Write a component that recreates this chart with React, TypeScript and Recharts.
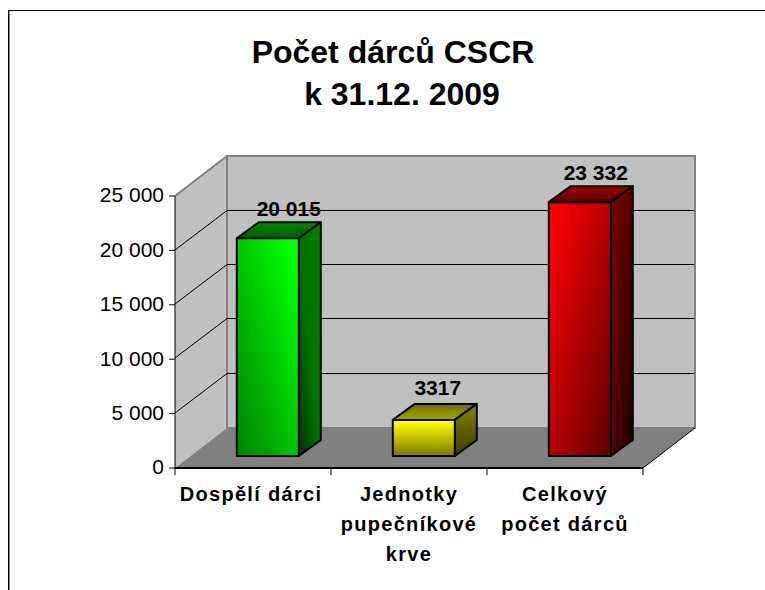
import { BarChart, Bar, XAxis, YAxis, CartesianGrid, LabelList } from 'recharts';

const CATEGORIES = ['Dospělí dárci', 'Jednotky\npupečníkové\nkrve', 'Celkový\npočet dárců'];
const DONORS = [20015, 3317, 23332];
const VALUE_LABELS = ['20 015', '3317', '23 332'];
const Y_TICKS = [0, 5000, 10000, 15000, 20000, 25000];
const TITLE_LINES = ['Počet dárců CSCR', 'k 31.12. 2009'];

const rows = CATEGORIES.map((name, i) => ({ name, donors: DONORS[i] }));

const WIDTH = 765;
const HEIGHT = 590;
const LEFT = 175;
const RIGHT = 643;
const TOP = 196;
const BOTTOM = 468;
const BAND = (RIGHT - LEFT) / CATEGORIES.length;

// depth of the fake 3D box
const WALL_DX = 52;
const WALL_DY = 40;
const BAR_SHIFT_X = 15;
const BAR_SHIFT_Y = 12;
const BAR_DX = 22;
const BAR_DY = 16;

// the source chart places its labels a little unevenly
const LABEL_NUDGE_X = [0, -7, -5];
const LABEL_NUDGE_Y = [-2, -5, -2];
const CATEGORY_NUDGE_X = [-2, 0, 0];

const FONT = '"Liberation Sans", Arial, sans-serif';
const WALL = '#c0c0c0';
const EDGE = '#808080';

function Gradients() {
  return (
    <defs>
      <linearGradient id="front0" x1="1" y1="0" x2="0" y2="1">
        <stop offset="0.1" stopColor="#00ff00" />
        <stop offset="1" stopColor="#008000" />
      </linearGradient>
      <linearGradient id="side0" x1="1" y1="0" x2="0" y2="1">
        <stop offset="0" stopColor="#008000" />
        <stop offset="0.55" stopColor="#007000" />
        <stop offset="1" stopColor="#002e00" />
      </linearGradient>
      <linearGradient id="top0" x1="0" y1="0" x2="0" y2="1">
        <stop offset="0" stopColor="#008a00" />
        <stop offset="1" stopColor="#005a00" />
      </linearGradient>
      <linearGradient id="front1" x1="0" y1="0" x2="0" y2="1">
        <stop offset="0.05" stopColor="#ffff00" />
        <stop offset="1" stopColor="#7a7a00" />
      </linearGradient>
      <linearGradient id="side1" x1="0" y1="0" x2="0" y2="1">
        <stop offset="0" stopColor="#858500" />
        <stop offset="1" stopColor="#3a3a00" />
      </linearGradient>
      <linearGradient id="top1" x1="0" y1="0" x2="0" y2="1">
        <stop offset="0" stopColor="#6a6a00" />
        <stop offset="1" stopColor="#a8a800" />
      </linearGradient>
      <linearGradient id="front2" x1="0" y1="0" x2="1" y2="1">
        <stop offset="0.05" stopColor="#ff0000" />
        <stop offset="1" stopColor="#600000" />
      </linearGradient>
      <linearGradient id="side2" x1="0" y1="0" x2="1" y2="1">
        <stop offset="0" stopColor="#800000" />
        <stop offset="1" stopColor="#1e0000" />
      </linearGradient>
      <linearGradient id="top2" x1="0" y1="0" x2="0" y2="1">
        <stop offset="0" stopColor="#a80000" />
        <stop offset="1" stopColor="#500000" />
      </linearGradient>
    </defs>
  );
}

function Walls() {
  const backX = LEFT + WALL_DX;
  const backRight = RIGHT + WALL_DX;
  const backTop = TOP - WALL_DY;
  const backBottom = BOTTOM - WALL_DY;
  return (
    <g>
      <line x1={8} y1={10.5} x2={WIDTH} y2={10.5} stroke="#000" />
      <line x1={8.5} y1={10} x2={8.5} y2={HEIGHT} stroke="#000" />
      <line x1={9.5} y1={11} x2={9.5} y2={HEIGHT} stroke={EDGE} />
      <text x={393} y={63} textAnchor="middle" fontFamily={FONT} fontWeight="bold" fontSize={32} fill="#000">
        {TITLE_LINES[0]}
      </text>
      <text x={402} y={105} textAnchor="middle" fontFamily={FONT} fontWeight="bold" fontSize={32} fill="#000">
        {TITLE_LINES[1]}
      </text>
      <polygon
        points={`${LEFT},${TOP} ${backX},${backTop} ${backX},${backBottom} ${LEFT},${BOTTOM}`}
        fill={WALL}
      />
      <line x1={LEFT} y1={TOP} x2={backX} y2={backTop} stroke={EDGE} strokeWidth={2} />
      <rect
        x={backX}
        y={backTop}
        width={backRight - backX}
        height={backBottom - backTop}
        fill={WALL}
        stroke={EDGE}
        strokeWidth={2}
      />
      <polygon
        points={`${LEFT},${BOTTOM} ${RIGHT},${BOTTOM} ${backRight},${backBottom} ${backX},${backBottom}`}
        fill={EDGE}
      />
      <line x1={RIGHT} y1={BOTTOM} x2={backRight} y2={backBottom} stroke="#000" />
    </g>
  );
}

// each grid line runs up the left wall and then across the back wall
function GridLine(props: any) {
  const y = Math.floor(props.y1 - 0.3);
  if (y <= TOP + 1 || y >= BOTTOM - 1) return <g key={props.key} />;
  return (
    <polyline
      key={props.key}
      points={`${LEFT},${y} ${LEFT + WALL_DX},${y - WALL_DY + 0.5} ${RIGHT + WALL_DX - 1},${y - WALL_DY + 0.5}`}
      fill="none"
      stroke="#000"
      strokeWidth={1}
    />
  );
}

function Box3D(props: any) {
  const { x, y, width, height, index } = props;
  const l = x + BAR_SHIFT_X;
  const r = l + width;
  const t = y - BAR_SHIFT_Y;
  const b = t + height;
  return (
    <g stroke="#000" strokeWidth={2} strokeLinejoin="round">
      <polygon
        points={`${l},${t} ${l + BAR_DX},${t - BAR_DY} ${r + BAR_DX},${t - BAR_DY} ${r},${t}`}
        fill={`url(#top${index})`}
      />
      <polygon
        points={`${r},${t} ${r + BAR_DX},${t - BAR_DY} ${r + BAR_DX},${b - BAR_DY} ${r},${b}`}
        fill={`url(#side${index})`}
      />
      <rect x={l} y={t} width={width} height={height} fill={`url(#front${index})`} />
    </g>
  );
}

function ValueLabel(props: any) {
  const { x, y, width, index } = props;
  return (
    <text
      x={x + width / 2 + BAR_SHIFT_X + BAR_DX - 1 + LABEL_NUDGE_X[index]}
      y={y - BAR_SHIFT_Y - BAR_DY - 4 + LABEL_NUDGE_Y[index]}
      textAnchor="middle"
      fontFamily={FONT}
      fontWeight="bold"
      fontSize={21}
      fill="#000"
    >
      {VALUE_LABELS[index]}
    </text>
  );
}

function CategoryTick(props: any) {
  const { x, index, payload } = props;
  const lines = String(payload.value).split('\n');
  const boundary = x - BAND / 2;
  return (
    <g>
      <line x1={boundary} y1={BOTTOM} x2={boundary} y2={BOTTOM + 7} stroke="#000" />
      {index === CATEGORIES.length - 1 && (
        <line x1={boundary + BAND} y1={BOTTOM} x2={boundary + BAND} y2={BOTTOM + 7} stroke="#000" />
      )}
      {lines.map((line, i) => (
        <text
          key={line}
          x={x + CATEGORY_NUDGE_X[index]}
          y={BOTTOM + 33 + i * 30}
          textAnchor="middle"
          fontFamily={FONT}
          fontWeight="bold"
          fontSize={20}
          letterSpacing={1.3}
          fill="#000"
        >
          {line}
        </text>
      ))}
    </g>
  );
}

const formatThousands = (v: number) => (v === 0 ? '0' : `${v / 1000} 000`);

export default function App() {
  return (
    <div style={{ position: 'fixed', left: 0, top: 0, width: WIDTH, height: HEIGHT, background: '#fff' }}>
      <BarChart
        width={WIDTH}
        height={HEIGHT}
        data={rows}
        barCategoryGap="30%"
        margin={{ top: TOP, right: WIDTH - RIGHT, bottom: HEIGHT - BOTTOM - 100, left: LEFT - 70 }}
      >
        <Gradients />
        <Walls />
        <CartesianGrid vertical={false} horizontal={GridLine} zIndex={100} />
        <XAxis
          dataKey="name"
          height={100}
          interval={0}
          axisLine={{ stroke: '#000', strokeWidth: 2 }}
          tickLine={false}
          tick={CategoryTick}
        />
        <YAxis
          width={70}
          domain={[0, 25000]}
          ticks={Y_TICKS}
          tickFormatter={formatThousands}
          axisLine={{ stroke: '#000', strokeWidth: 1 }}
          tickLine={{ stroke: '#000' }}
          tickSize={6}
          tickMargin={5}
          tick={{ fill: '#000', fontSize: 21, fontFamily: FONT, dy: -1 }}
        />
        <Bar dataKey="donors" isAnimationActive={false} shape={Box3D}>
          <LabelList dataKey="donors" content={ValueLabel} />
        </Bar>
      </BarChart>
    </div>
  );
}
